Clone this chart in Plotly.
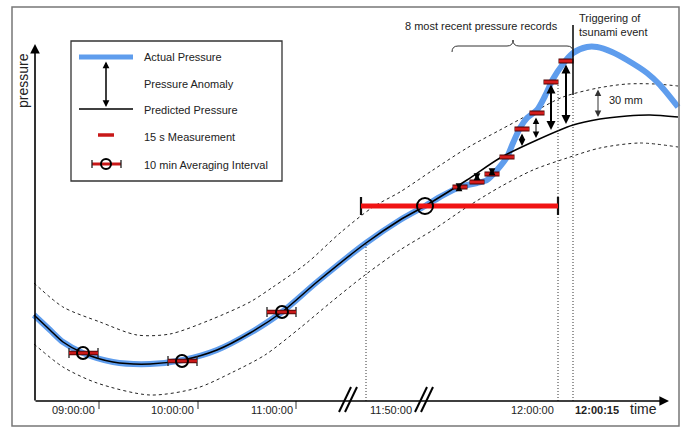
import plotly.graph_objects as go

# ---------------- data (schematic units: x = time position, p = pressure above axis) -------------
pred_x = [34, 50, 63, 83, 113, 150, 183, 217, 250, 282, 317, 366, 400, 425, 467, 500, 537, 573, 600, 627, 650, 678]
pred_p = [86, 71, 59, 48, 39, 37, 41, 51, 68, 89, 119, 158, 181, 195, 221, 243, 261, 276, 282, 285, 286, 284]

act_x = [34, 50, 63, 83, 113, 150, 183, 217, 250, 282, 317, 366, 400, 425, 440, 460, 477, 487, 497, 507, 513,
         520, 527, 537, 545, 553, 563, 573, 587, 597, 612, 627, 647, 660, 678]
act_p = [86, 71, 59, 48, 39, 37, 41, 51, 68, 89, 119, 158, 181, 195, 204, 214, 218, 221, 231, 244, 258,
         273, 283, 291, 305, 322, 337, 348, 354, 354, 349, 341, 328, 316, 294]

upper_x = [34, 63, 100, 137, 170, 210, 250, 273, 307, 340, 373, 400, 433, 467, 500, 530, 563, 598, 627, 655, 678]
upper_p = [118, 94, 79, 66, 67, 81, 99, 114, 138, 168, 194, 209, 231, 253, 271, 287, 304, 313, 317, 317, 315]

lower_x = [34, 63, 97, 150, 197, 233, 265, 300, 330, 365, 400, 433, 467, 500, 533, 567, 600, 640, 678]
lower_p = [57, 34, 18, 6, 13, 29, 46, 73, 98, 126, 151, 171, 194, 214, 231, 243, 253, 258, 254]

meas_x = [460, 477, 492, 507, 522, 537, 551, 566]
meas_p = [214, 219, 227, 244, 272, 288, 319, 340]
meas_half = 7.5

avg_x = [83, 182, 282]
avg_p = [48, 40, 89]
avg_lo = [69, 168, 267]
avg_hi = [98, 197, 296]

big_x = [425]
big_p = [195]
big_lo = [361]
big_hi = [558]

anom_x = [459, 477, 492, 522, 536, 551, 566]
anom_top = [218, 229, 234, 269, 285, 318, 338]
anom_bot = [211, 221, 226, 255, 263, 271, 277]
anom_w = [1.5, 1.5, 1.5, 1, 1, 2, 2]

band_x = [598]
band_top = [313]
band_bot = [284]

vline_x = [366, 558, 573]
vline_top = [158, 318, 306]

tick_x = [99, 198, 296]
time_labels = ["09:00:00", "10:00:00", "11:00:00", "11:50:00", "12:00:00", "<b>12:00:15</b>"]
time_label_x = [97, 196, 295, 368, 556, 573]
time_label_anchor = ["right", "right", "right", "left", "right", "left"]

break_x = [339, 345, 415, 421]

FONT = "Liberation Sans, Arial, sans-serif"
BLUE = "#5f9ded"

fig = go.Figure()

# tolerance bands
for xs, ps in ((upper_x, upper_p), (lower_x, lower_p)):
    fig.add_trace(go.Scatter(x=xs, y=ps, mode="lines",
                             line=dict(color="#222", width=1, dash="3px,3px", shape="spline", smoothing=0.8),
                             hoverinfo="skip", showlegend=False))

# actual pressure
fig.add_trace(go.Scatter(x=act_x, y=act_p, mode="lines",
                         line=dict(color=BLUE, width=6, shape="spline", smoothing=0.8),
                         hoverinfo="skip", showlegend=False))
# predicted pressure
fig.add_trace(go.Scatter(x=pred_x, y=pred_p, mode="lines",
                         line=dict(color="black", width=1.5, shape="spline", smoothing=0.8),
                         hoverinfo="skip", showlegend=False))

# dotted verticals
vx, vy = [], []
for x, t in zip(vline_x, vline_top):
    vx += [x, x, None]
    vy += [0, t, None]
fig.add_trace(go.Scatter(x=vx, y=vy, mode="lines", line=dict(color="#333", width=1, dash="1px,2px"),
                         hoverinfo="skip", showlegend=False))

# ticks
tx, ty = [], []
for x in tick_x:
    tx += [x, x, None]
    ty += [0, -8, None]
fig.add_trace(go.Scatter(x=tx, y=ty, mode="lines", line=dict(color="#333", width=1),
                         hoverinfo="skip", showlegend=False))

# axis break marks
bx, by = [], []
for x in break_x:
    bx += [x, x + 12, None]
    by += [-11, 14, None]
fig.add_trace(go.Scatter(x=bx, y=by, mode="lines", line=dict(color="black", width=2),
                         hoverinfo="skip", showlegend=False))

clear = dict(color="rgba(0,0,0,0)", size=1)

# 10 min averaging intervals (small)
pl = [h - x for h, x in zip(avg_hi, avg_x)]
mi = [x - l for x, l in zip(avg_x, avg_lo)]
fig.add_trace(go.Scatter(x=avg_x, y=avg_p, mode="markers", marker=clear,
                         error_x=dict(type="data", symmetric=False, array=pl, arrayminus=mi,
                                      color="#222", thickness=1.3, width=5),
                         hoverinfo="skip", showlegend=False))
fig.add_trace(go.Scatter(x=avg_x, y=avg_p, mode="markers", marker=clear,
                         error_x=dict(type="data", symmetric=False, array=pl, arrayminus=mi,
                                      color="#5a0808", thickness=4.5, width=0),
                         hoverinfo="skip", showlegend=False))
fig.add_trace(go.Scatter(x=avg_x, y=avg_p, mode="markers",
                         marker=dict(symbol="circle-open", size=12, color="black", line=dict(width=2)),
                         error_x=dict(type="data", symmetric=False, array=pl, arrayminus=mi,
                                      color="#c81818", thickness=2.5, width=0),
                         hoverinfo="skip", showlegend=False))

# big averaging interval
bpl = [h - x for h, x in zip(big_hi, big_x)]
bmi = [x - l for x, l in zip(big_x, big_lo)]
fig.add_trace(go.Scatter(x=big_x, y=big_p, mode="markers", marker=clear,
                         error_x=dict(type="data", symmetric=False, array=bpl, arrayminus=bmi,
                                      color="#111", thickness=2.2, width=9),
                         hoverinfo="skip", showlegend=False))
fig.add_trace(go.Scatter(x=big_x, y=big_p, mode="markers",
                         marker=dict(symbol="circle-open", size=16, color="black", line=dict(width=2)),
                         error_x=dict(type="data", array=bpl, arrayminus=bmi, symmetric=False,
                                      color="#f01414", thickness=5, width=0),
                         hoverinfo="skip", showlegend=False))

# 15 s measurements
fig.add_trace(go.Scatter(x=meas_x, y=meas_p, mode="markers", marker=clear,
                         error_x=dict(type="constant", value=meas_half, color="#4a0000", thickness=5, width=0),
                         hoverinfo="skip", showlegend=False))
fig.add_trace(go.Scatter(x=meas_x, y=meas_p, mode="markers", marker=clear,
                         error_x=dict(type="constant", value=meas_half - 0.5, color="#d41c1c", thickness=3, width=0),
                         hoverinfo="skip", showlegend=False))

annotations = []
# anomaly arrows
for x, t, b, w in zip(anom_x, anom_top, anom_bot, anom_w):
    sz = 0.9 if w >= 1.5 else 1.3
    annotations.append(dict(x=x, y=b, ax=x, ay=t, xref="x", yref="y", axref="x", ayref="y",
                            text="", showarrow=True, arrowhead=2, startarrowhead=2, arrowside="end+start",
                            arrowsize=sz, startarrowsize=sz, arrowwidth=w, arrowcolor="black"))
# 30 mm arrow
for x, t, b in zip(band_x, band_top, band_bot):
    annotations.append(dict(x=x, y=b, ax=x, ay=t, xref="x", yref="y", axref="x", ayref="y",
                            text="", showarrow=True, arrowhead=2, startarrowhead=2, arrowside="end+start",
                            arrowsize=1.3, startarrowsize=1.3, arrowwidth=1, arrowcolor="#333"))
annotations.append(dict(x=607, y=301, text="30 mm", showarrow=False, xanchor="left", yanchor="middle",
                        font=dict(size=11, color="#222", family=FONT)))

# axes arrows
annotations.append(dict(x=35, y=357, ax=35, ay=-1, xref="x", yref="y", axref="x", ayref="y",
                        text="", showarrow=True, arrowhead=2, arrowsize=1.2, arrowwidth=1.6, arrowcolor="black"))
annotations.append(dict(x=669, y=0, ax=34, ay=0, xref="x", yref="y", axref="x", ayref="y",
                        text="", showarrow=True, arrowhead=2, arrowsize=1.2, arrowwidth=1.6, arrowcolor="black"))

# tick labels
for txt, x, a in zip(time_labels, time_label_x, time_label_anchor):
    annotations.append(dict(x=x, y=-9, text=txt, showarrow=False, xanchor=a, yanchor="middle",
                            font=dict(size=11, color="#222", family=FONT)))
annotations.append(dict(x=628, y=-8, text="time", showarrow=False, xanchor="left", yanchor="middle",
                        font=dict(size=14, color="#222", family=FONT)))
annotations.append(dict(x=23, y=320, text="pressure", showarrow=False, textangle=-90,
                        xanchor="center", yanchor="middle", font=dict(size=14, color="#222", family=FONT)))

# top texts
annotations.append(dict(x=481, y=375, text="8 most recent pressure records", showarrow=False,
                        xanchor="center", yanchor="middle", font=dict(size=11, color="#222", family=FONT)))
annotations.append(dict(x=577, y=376, text="Triggering of<br>tsunami event", showarrow=False,
                        xanchor="left", yanchor="middle", align="left",
                        font=dict(size=11, color="#222", family=FONT)))

# legend texts
leg_texts = ["Actual Pressure", "Pressure Anomaly", "Predicted Pressure", "15 s Measurement",
             "10 min Averaging Interval"]
leg_y = [344, 317, 291, 264, 236]
for t, y in zip(leg_texts, leg_y):
    annotations.append(dict(x=142, y=y, text=t, showarrow=False, xanchor="left", yanchor="middle",
                            font=dict(size=11, color="#222", family=FONT)))
# legend anomaly arrow
annotations.append(dict(x=106, y=294, ax=106, ay=341, xref="x", yref="y", axref="x", ayref="y",
                        text="", showarrow=True, arrowhead=2, startarrowhead=2, arrowside="end+start",
                        arrowsize=0.9, startarrowsize=0.9, arrowwidth=1.5, arrowcolor="black"))

W, H = 683, 428
shapes = [
    # outer frame (paper coordinates)
    dict(type="rect", xref="paper", yref="paper", x0=12 / W, x1=679 / W, y0=1 - 426 / H, y1=1 - 7 / H,
         line=dict(color="#777", width=1.5)),
    # trigger solid line
    dict(type="line", x0=573, x1=573, y0=306, y1=376, xref="x", yref="y", line=dict(color="black", width=1.5)),
    # brace
    dict(type="path", xref="x", yref="y",
         path="M452,349 Q452,355 458,355 L507,355 Q513,355 513,361 Q513,355 519,355 L567,355 Q573,355 573,349",
         line=dict(color="#333", width=1)),
    # legend box
    dict(type="rect", x0=71, x1=282, y0=220, y1=360, xref="x", yref="y", line=dict(color="#333", width=1.3),
         fillcolor="white", layer="below"),
    dict(type="line", x0=79, x1=133, y0=344, y1=344, xref="x", yref="y", line=dict(color=BLUE, width=5)),
    dict(type="line", x0=79, x1=133, y0=292, y1=292, xref="x", yref="y", line=dict(color="black", width=1.5)),
    dict(type="line", x0=98, x1=114, y0=266, y1=266, xref="x", yref="y", line=dict(color="#c81818", width=3.5)),
    dict(type="line", x0=92, x1=121, y0=237, y1=237, xref="x", yref="y", line=dict(color="#c81818", width=3)),
    dict(type="line", x0=92, x1=92, y0=233, y1=241, xref="x", yref="y", line=dict(color="#222", width=1.3)),
    dict(type="line", x0=121, x1=121, y0=233, y1=241, xref="x", yref="y", line=dict(color="#222", width=1.3)),
    dict(type="circle", x0=101, x1=111, y0=232, y1=242, xref="x", yref="y", line=dict(color="black", width=2)),
]

fig.update_layout(
    width=W, height=H, margin=dict(l=0, r=0, t=0, b=0),
    paper_bgcolor="white", plot_bgcolor="white",
    xaxis=dict(range=[0, 683], visible=False, fixedrange=True),
    yaxis=dict(range=[-27, 401], visible=False, fixedrange=True),
    showlegend=False, annotations=annotations, shapes=shapes, hovermode=False,
)

fig.write_html("out.html", config={"displayModeBar": False, "staticPlot": True},
               post_script="document.body.style.margin='0';document.body.style.overflow='hidden';")
